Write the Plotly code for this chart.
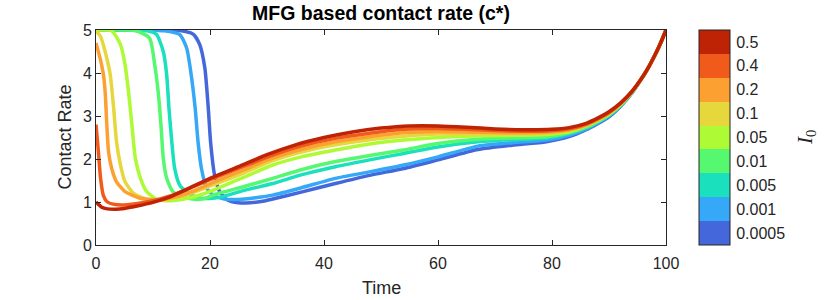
import plotly.graph_objects as go

# ---------------- data ----------------
I0_labels = ["0.0005", "0.001", "0.005", "0.01", "0.05", "0.1", "0.2", "0.4", "0.5"]
I0_colors = ["#4467DB", "#35A8F7", "#1BE0BE", "#55F86E", "#ADFA35",
             "#E6D73C", "#FCA032", "#F05A1A", "#BE2305"]

t_00005 = [0, 15, 17.1, 18.2, 19.1, 19.7, 20.1, 20.8, 21.7, 23, 25, 27, 29, 31, 36, 42, 48, 54, 60, 67, 73, 79, 83, 86, 88, 90, 92, 94, 96, 97, 98, 99, 100]
c_00005 = [5.0, 4.98, 4.9, 4.66, 4.11, 3.18, 2.4, 1.63, 1.24, 1.05, 0.98, 0.98, 1.01, 1.07, 1.23, 1.43, 1.62, 1.78, 1.98, 2.22, 2.32, 2.4, 2.52, 2.68, 2.82, 2.98, 3.22, 3.53, 3.93, 4.15, 4.4, 4.68, 5.0]

t_0001 = [0, 12, 14.7, 15.9, 16.7, 17.4, 17.9, 18.5, 19.4, 20.6, 22.5, 25, 28, 31, 36, 42, 48, 54, 60, 67, 73, 79, 83, 86, 88, 90, 92, 94, 96, 97, 98, 99, 100]
c_0001 = [5.0, 4.98, 4.89, 4.58, 3.96, 3.18, 2.4, 1.78, 1.32, 1.16, 1.07, 1.06, 1.1, 1.16, 1.33, 1.55, 1.7, 1.86, 2.05, 2.3, 2.38, 2.44, 2.55, 2.7, 2.84, 3.0, 3.23, 3.54, 3.93, 4.15, 4.4, 4.68, 5.0]

t_0005 = [0, 9, 10.6, 11.8, 12.4, 12.8, 13.3, 13.8, 14.7, 16.2, 18, 20, 22, 26, 31, 36, 42, 48, 54, 60, 67, 73, 79, 83, 86, 88, 90, 92, 94, 96, 97, 98, 99, 100]
c_0005 = [5.0, 4.98, 4.9, 4.5, 3.96, 3.18, 2.4, 1.78, 1.39, 1.2, 1.1, 1.08, 1.12, 1.27, 1.43, 1.63, 1.82, 1.98, 2.13, 2.28, 2.4, 2.45, 2.49, 2.59, 2.73, 2.86, 3.02, 3.24, 3.54, 3.93, 4.15, 4.4, 4.68, 5.0]

t_001 = [0, 7, 9.4, 10.3, 10.9, 11.4, 11.8, 12.4, 13.5, 15.3, 17.5, 19, 21, 26, 31, 36, 42, 48, 54, 60, 67, 73, 79, 83, 86, 88, 90, 92, 94, 96, 97, 98, 99, 100]
c_001 = [5.0, 4.98, 4.81, 4.19, 3.57, 2.79, 2.02, 1.55, 1.24, 1.12, 1.06, 1.08, 1.18, 1.36, 1.55, 1.75, 1.94, 2.08, 2.21, 2.36, 2.46, 2.49, 2.52, 2.61, 2.74, 2.87, 3.03, 3.25, 3.55, 3.93, 4.15, 4.4, 4.68, 5.0]

t_005 = [0, 2.75, 4.3, 5.1, 5.7, 6.3, 6.9, 7.8, 8.9, 10.4, 12.5, 15, 18, 21, 26, 31, 36, 42, 48, 54, 60, 67, 73, 79, 83, 86, 88, 90, 92, 94, 96, 97, 98, 99, 100]
c_005 = [5.0, 4.98, 4.66, 4.19, 3.57, 2.79, 2.02, 1.55, 1.24, 1.08, 1.03, 1.06, 1.15, 1.3, 1.58, 1.86, 2.05, 2.21, 2.35, 2.44, 2.5, 2.54, 2.55, 2.57, 2.64, 2.77, 2.9, 3.05, 3.27, 3.55, 3.93, 4.15, 4.4, 4.68, 5.0]

t_01 = [0, 0.8, 1.6, 2.5, 3.1, 3.6, 4.3, 5.1, 6.6, 8.6, 11, 14, 17, 21, 26, 31, 36, 42, 48, 54, 60, 67, 73, 79, 83, 86, 88, 90, 92, 94, 96, 97, 98, 99, 100]
c_01 = [4.98, 4.85, 4.5, 3.96, 3.18, 2.4, 1.86, 1.47, 1.2, 1.08, 1.04, 1.1, 1.22, 1.42, 1.68, 1.96, 2.16, 2.33, 2.45, 2.53, 2.58, 2.58, 2.58, 2.6, 2.66, 2.78, 2.91, 3.06, 3.27, 3.56, 3.93, 4.15, 4.4, 4.68, 5.0]

t_02 = [0, 0.7, 1.3, 1.6, 1.9, 2.2, 2.75, 3.6, 5.1, 8, 11, 14, 17, 21, 26, 31, 36, 42, 48, 54, 60, 67, 73, 79, 83, 86, 88, 90, 92, 94, 96, 97, 98, 99, 100]
c_02 = [4.7, 4.35, 3.96, 3.57, 2.79, 2.17, 1.78, 1.47, 1.24, 1.08, 1.05, 1.12, 1.25, 1.48, 1.75, 2.02, 2.22, 2.4, 2.52, 2.61, 2.64, 2.62, 2.61, 2.62, 2.68, 2.79, 2.92, 3.07, 3.28, 3.56, 3.93, 4.15, 4.4, 4.68, 5.0]

t_04 = [0, 0.4, 0.8, 1.3, 2, 3, 4.5, 7, 10, 13, 16, 20, 25, 31, 36, 42, 48, 54, 60, 67, 73, 79, 83, 86, 88, 90, 92, 94, 96, 97, 98, 99, 100]
c_04 = [2.8, 2.2, 1.55, 1.15, 1.0, 0.95, 0.93, 0.96, 1.03, 1.14, 1.3, 1.52, 1.78, 2.09, 2.3, 2.48, 2.6, 2.69, 2.71, 2.68, 2.65, 2.65, 2.7, 2.81, 2.93, 3.08, 3.29, 3.56, 3.93, 4.15, 4.4, 4.68, 5.0]

t_05 = [0, 1, 2, 3.5, 5, 7, 10, 13, 16, 20, 25, 30, 35, 40, 45, 50, 55, 60, 65, 70, 75, 80, 83, 86, 88, 90, 92, 94, 96, 97, 98, 99, 100]
c_05 = [1.0, 0.88, 0.84, 0.83, 0.85, 0.9, 0.99, 1.12, 1.3, 1.55, 1.82, 2.1, 2.33, 2.5, 2.63, 2.72, 2.77, 2.77, 2.74, 2.7, 2.68, 2.69, 2.73, 2.83, 2.95, 3.1, 3.3, 3.57, 3.93, 4.15, 4.4, 4.68, 5.0]

series_t = [t_00005, t_0001, t_0005, t_001, t_005, t_01, t_02, t_04, t_05]
series_c = [c_00005, c_0001, c_0005, c_001, c_005, c_01, c_02, c_04, c_05]

x_ticks = [0, 20, 40, 60, 80, 100]
y_ticks = [0, 1, 2, 3, 4, 5]

# ---------------- figure ----------------
AX = "#262626"
FONT = "Arial, Liberation Sans, sans-serif"

fig = go.Figure()

for t, c, col, lab in zip(series_t, series_c, I0_colors, I0_labels):
    fig.add_trace(go.Scatter(x=t, y=c, mode="lines", name=lab,
                             line=dict(color=col, width=3.5, shape="spline", smoothing=0.6),
                             showlegend=False))

n = len(I0_colors)
cscale = []
for i, col in enumerate(I0_colors):
    cscale.append([i / n, col])
    cscale.append([(i + 1) / n, col])

fig.add_trace(go.Scatter(
    x=[None], y=[None], mode="markers", showlegend=False, hoverinfo="skip",
    marker=dict(color=[0], cmin=0, cmax=n, colorscale=cscale, showscale=True,
                colorbar=dict(
                    x=1.058, xanchor="left", xpad=0, ypad=0,
                    y=0.5, yanchor="middle", len=1, lenmode="fraction",
                    thickness=31, thicknessmode="pixels",
                    outlinewidth=1, outlinecolor=AX,
                    tickvals=[i + 0.5 for i in range(n)], ticktext=I0_labels,
                    ticks="outside", ticklen=3, tickcolor="rgba(0,0,0,0)",
                    tickfont=dict(family=FONT, size=16, color=AX),
                ))))

fig.update_layout(
    width=840, height=300,
    margin=dict(l=96, r=174, t=30, b=55),
    paper_bgcolor="white", plot_bgcolor="white",
    title=dict(text="<b>MFG based contact rate (c*)</b>", x=0.5, xref="paper",
               y=1 - 13.5 / 300, yref="container", yanchor="middle", xanchor="center",
               font=dict(family=FONT, size=19.5, color="black")),
    font=dict(family=FONT, color=AX),
)

common = dict(showgrid=False, zeroline=False, showline=True, linecolor=AX, linewidth=1,
              mirror="ticks", ticks="inside", ticklen=5, tickcolor=AX, tickwidth=1,
              tickfont=dict(family=FONT, size=16, color=AX))
fig.update_xaxes(range=[0, 100], tickvals=x_ticks, ticklabelstandoff=4, **common)
fig.update_yaxes(range=[0, 5], tickvals=y_ticks, **common)

fig.add_annotation(text="Time", xref="paper", yref="paper", x=0.5, y=(245 - 287.7) / 215,
                   xanchor="center", yanchor="middle", showarrow=False,
                   font=dict(family=FONT, size=18, color=AX))
fig.add_annotation(text="Contact Rate", xref="paper", yref="paper", x=(64 - 96) / 570, y=0.5,
                   xanchor="center", yanchor="middle", showarrow=False, textangle=-90,
                   font=dict(family=FONT, size=18, color=AX))
fig.add_annotation(text="<i>I</i><sub>0</sub>", xref="paper", yref="paper",
                   x=(806 - 96) / 570, y=(245 - 138) / 215,
                   xanchor="center", yanchor="middle", showarrow=False, textangle=-90,
                   font=dict(family="Liberation Serif, DejaVu Serif, serif", size=21, color=AX))

fig.write_html("out.html", config={"displayModeBar": False},
               post_script="document.body.style.margin='0';")
